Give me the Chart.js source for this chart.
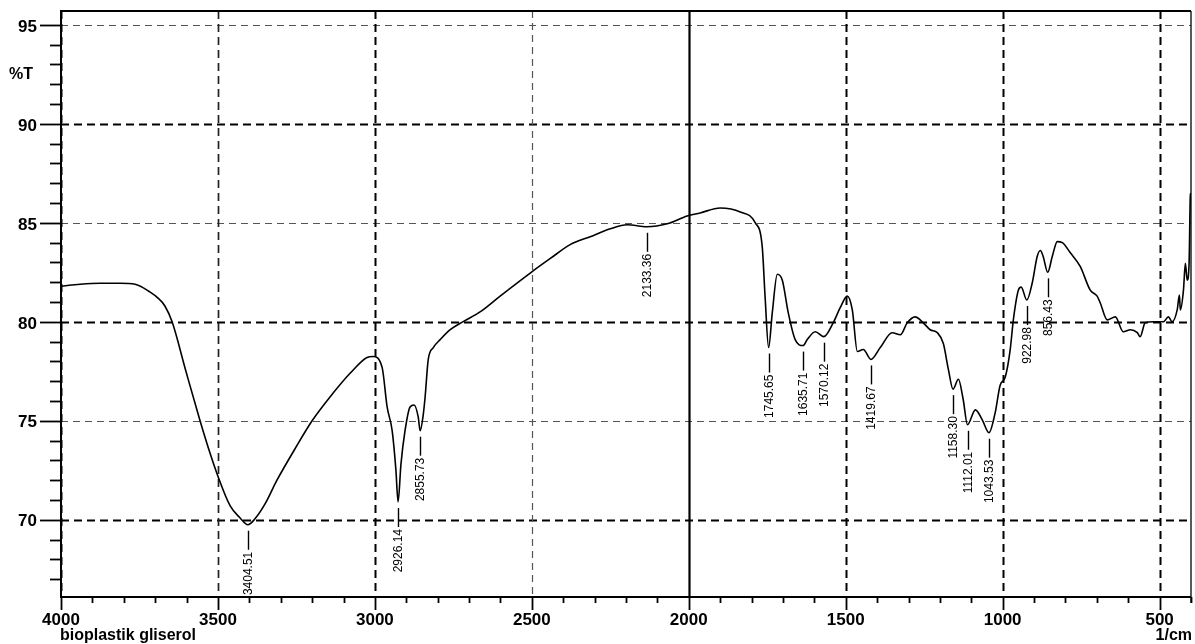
<!DOCTYPE html>
<html>
<head>
<meta charset="utf-8">
<style>
  html, body { margin: 0; padding: 0; background: #fff; }
  #wrap { position: relative; width: 1195px; height: 644px; }
</style>
<script src="https://cdn.jsdelivr.net/npm/chart.js@4.4.1/dist/chart.umd.min.js"></script>
</head>
<body>
<div id="wrap"><canvas id="c" width="1195" height="644"></canvas></div>
<script>
// ---- data ----
const wavenumbers = [4000,3939,3876,3812,3764,3716,3691,3669,3646,3602,3557,3530,3500,3461,3430,3404.51,3382,3350,3312,3254,3200,3133,3079,3025,3006,2977,2961,2945,2933,2926.14,2917,2904,2888,2875,2862,2855.73,2846,2840,2830,2814,2792,2760,2720,2665,2601,2502,2441,2378,2314,2250,2196,2133.36,2069,2005,1964,1900,1836,1788,1766,1757,1745.65,1734,1718,1702,1683,1661,1635.71,1623,1597,1570.12,1540,1518,1495,1479,1463,1444,1419.67,1390,1352,1326,1304,1279,1253,1231,1208,1189,1173,1158.3,1141,1126,1112.01,1087,1065,1043.53,1024,1008,992,976,966,950,941,922.98,906,890,880,871,856.43,842,826,810,785,753,721,699,689,667,641,616,593,571,562,546,520,488,472,460,444,437,434,424,418,412,406,402,400];
const transmittance = [81.8,81.9,81.95,81.95,81.9,81.5,81.2,80.8,80.0,77.5,75.0,73.6,72.2,70.7,70.1,69.75,70.05,70.8,72.0,73.6,75.0,76.4,77.4,78.2,78.25,77.7,75.7,74.5,72.5,70.9,72.8,74.5,75.7,75.8,75.2,74.5,75.3,76.2,78.1,78.7,79.1,79.6,80.0,80.5,81.3,82.5,83.2,83.9,84.3,84.7,84.9,84.8,84.95,85.35,85.5,85.75,85.55,85.0,83.8,81.3,78.7,80.45,82.4,82.1,80.45,79.1,78.8,79.1,79.5,79.25,79.95,80.7,81.3,80.6,78.5,78.6,78.1,78.7,79.45,79.35,79.95,80.25,79.95,79.6,79.45,78.9,77.6,76.6,77.1,76.1,74.8,75.55,75.05,74.4,75.4,76.8,77.2,78.6,80.1,81.6,81.75,81.1,81.95,83.3,83.6,83.3,82.5,83.3,84.05,84.0,83.5,82.8,81.6,81.3,80.95,80.1,80.25,79.5,79.6,79.45,79.25,79.95,80.0,80.0,80.25,80.0,80.6,81.35,80.6,81.6,82.95,82.1,83.0,86.4,86.5];

const peakWavenumbers = [3404.51,2926.14,2855.73,2133.36,1745.65,1635.71,1570.12,1419.67,1158.30,1112.01,1043.53,922.98,856.43];
const peakTransmittance = [69.75,70.9,74.5,84.8,78.7,78.8,79.25,78.1,76.6,74.8,74.4,81.1,82.5];
const peakLabels = ['3404.51','2926.14','2855.73','2133.36','1745.65','1635.71','1570.12','1419.67','1158.30','1112.01','1043.53','922.98','856.43'];

const xTickValues = [4000,3500,3000,2500,2000,1500,1000,500];
const xTickLabels = ['4000','3500','3000','2500','2000','1500','1000','500'];
const yTickValues = [70,75,80,85,90,95];
const yTickLabels = ['70','75','80','85','90','95'];
const xRange = [400, 4000];
const yRange = [66.1, 95.7];
const sampleName = 'bioplastik gliserol';
const xUnit = '1/cm';
const yUnit = '%T';

// ---- styles ----
const FONT = '"Liberation Sans", Arial, sans-serif';
const gridLight = { color: '#555', width: 1.2, dash: [7, 5] };
const gridMedium = { color: '#222', width: 1.7, dash: [8, 5] };
const gridBold = { color: '#000', width: 2, dash: [8, 5] };
const gridSolid = { color: '#000', width: 2.2, dash: [] };
function xGridStyle(v) {
  if (v === 2000) return gridSolid;
  if (v === 2500) return gridLight;
  if (v === 3500) return gridMedium;
  return gridBold;
}
function yGridStyle(v) {
  return (v % 10 === 0) ? gridBold : gridLight;
}

const spectrumPlugin = {
  id: 'spectrumPlugin',
  beforeDatasetsDraw(chart) {
    const { ctx, chartArea: a, scales: { x, y } } = chart;
    ctx.save();
    yTickValues.forEach(v => {
      const s = yGridStyle(v);
      const py = Math.round(y.getPixelForValue(v)) + 0.5;
      ctx.beginPath();
      ctx.strokeStyle = s.color; ctx.lineWidth = s.width; ctx.setLineDash(s.dash);
      ctx.moveTo(a.left, py); ctx.lineTo(a.right, py); ctx.stroke();
    });
    xTickValues.forEach(v => {
      const s = xGridStyle(v);
      const px = Math.round(x.getPixelForValue(v)) + 0.5;
      ctx.beginPath();
      ctx.strokeStyle = s.color; ctx.lineWidth = s.width; ctx.setLineDash(s.dash);
      ctx.moveTo(px, a.top); ctx.lineTo(px, a.bottom); ctx.stroke();
    });
    ctx.restore();
  },
  afterDatasetsDraw(chart) {
    const { ctx, chartArea: a, scales: { x, y } } = chart;
    ctx.save();
    ctx.setLineDash([]);
    ctx.strokeStyle = '#000';
    // frame
    ctx.lineWidth = 2;
    ctx.beginPath();
    ctx.moveTo(a.left, a.bottom); ctx.lineTo(a.left, a.top); ctx.lineTo(a.right, a.top);
    ctx.moveTo(a.left - 1, a.bottom); ctx.lineTo(a.right, a.bottom);
    ctx.stroke();
    ctx.lineWidth = 1.3;
    ctx.beginPath();
    ctx.moveTo(a.right, a.top); ctx.lineTo(a.right, a.bottom + 6);
    ctx.stroke();
    // y ticks
    ctx.lineWidth = 1.8;
    for (let v = Math.ceil(yRange[0]); v <= Math.floor(yRange[1]); v++) {
      const py = Math.round(y.getPixelForValue(v)) + 0.5;
      const len = (v % 5 === 0) ? 21 : 11;
      ctx.beginPath(); ctx.moveTo(a.left - len, py); ctx.lineTo(a.left, py); ctx.stroke();
    }
    // x ticks
    for (let v = xRange[1]; v >= xRange[0]; v -= 100) {
      const px = Math.round(x.getPixelForValue(v)) + 0.5;
      const len = (v % 500 === 0) ? 13 : 6;
      ctx.beginPath(); ctx.moveTo(px, a.bottom); ctx.lineTo(px, a.bottom + len); ctx.stroke();
    }
    // tick labels
    ctx.fillStyle = '#000';
    ctx.font = 'bold 17px ' + FONT;
    ctx.textBaseline = 'middle';
    ctx.textAlign = 'right';
    yTickValues.forEach((v, i) => {
      ctx.fillText(yTickLabels[i], 37, y.getPixelForValue(v) + 2);
    });
    ctx.textAlign = 'center';
    xTickValues.forEach((v, i) => {
      ctx.fillText(xTickLabels[i], x.getPixelForValue(v), a.bottom + 23);
    });
    // peak markers + labels
    ctx.lineWidth = 1.4;
    ctx.fillStyle = '#000';
    ctx.font = '12px ' + FONT;
    peakWavenumbers.forEach((w, i) => {
      const px = Math.round(x.getPixelForValue(w)) + 0.5;
      const py = y.getPixelForValue(peakTransmittance[i]);
      ctx.beginPath(); ctx.moveTo(px, py + 6); ctx.lineTo(px, py + 25); ctx.stroke();
      ctx.save();
      ctx.translate(px, py + 27);
      ctx.rotate(-Math.PI / 2);
      ctx.textAlign = 'right';
      ctx.textBaseline = 'middle';
      ctx.fillText(peakLabels[i], 0, 0);
      ctx.restore();
    });
    // unit and sample texts
    ctx.fillStyle = '#000';
    ctx.font = 'bold 16px ' + FONT;
    ctx.textBaseline = 'middle';
    ctx.textAlign = 'left';
    ctx.fillText(yUnit, 9, 75);
    ctx.fillText(sampleName, a.left - 1, 636);
    ctx.textAlign = 'right';
    ctx.fillText(xUnit, a.right + 1, 636);
    ctx.restore();
  }
};

const points = wavenumbers.map((w, i) => ({ x: w, y: transmittance[i] }));

new Chart(document.getElementById('c'), {
  type: 'line',
  data: {
    datasets: [{
      data: points,
      borderColor: '#000',
      borderWidth: 1.6,
      pointRadius: 0,
      fill: false,
      cubicInterpolationMode: 'monotone'
    }]
  },
  options: {
    responsive: false,
    animation: false,
    events: [],
    layout: { padding: { top: 11, right: 4, left: 0, bottom: 0 } },
    plugins: { legend: { display: false }, tooltip: { enabled: false } },
    scales: {
      x: {
        type: 'linear',
        reverse: true,
        min: xRange[0],
        max: xRange[1],
        afterBuildTicks: s => { s.ticks = xTickValues.map(v => ({ value: v })); },
        afterFit: s => { s.height = 47; },
        grid: { display: false, drawTicks: false },
        border: { display: false },
        ticks: { display: false }
      },
      y: {
        type: 'linear',
        min: yRange[0],
        max: yRange[1],
        afterBuildTicks: s => { s.ticks = yTickValues.map(v => ({ value: v })); },
        afterFit: s => { s.width = 61; },
        grid: { display: false, drawTicks: false },
        border: { display: false },
        ticks: { display: false }
      }
    }
  },
  plugins: [spectrumPlugin]
});
</script>
</body>
</html>
